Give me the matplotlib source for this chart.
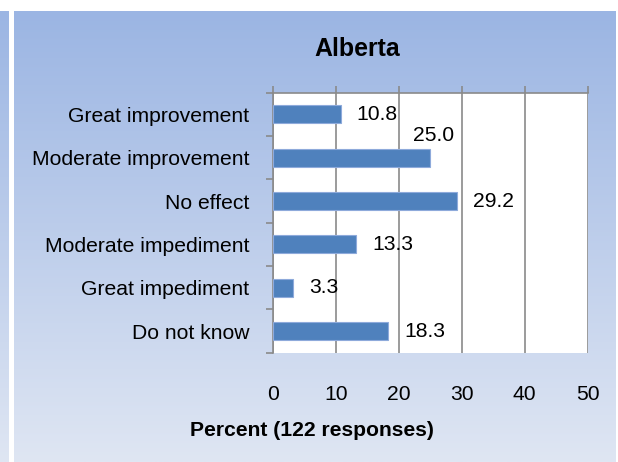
import numpy as np
import matplotlib
matplotlib.use("Agg")
import matplotlib.pyplot as plt
from matplotlib.colors import LinearSegmentedColormap

plt.rcParams['font.family'] = ['Liberation Sans', 'DejaVu Sans']

categories = ["Great improvement", "Moderate improvement", "No effect",
              "Moderate impediment", "Great impediment", "Do not know"]
percent = [10.8, 25.0, 29.2, 13.3, 3.3, 18.3]
xticks = [0, 10, 20, 30, 40, 50]

W, H = 618, 462
fig = plt.figure(figsize=(W / 100, H / 100), dpi=100)
fig.patch.set_facecolor("white")

# gradient background panels (left strip + main panel)
grad = LinearSegmentedColormap.from_list("bg", ["#9bb5e3", "#dfe6f3"])
g = np.linspace(0, 1, 256).reshape(-1, 1)
for x0, x1 in [(0, 9), (14, 616)]:
    bg = fig.add_axes([x0 / W, 0, (x1 - x0) / W, (H - 11) / H], zorder=-5)
    bg.imshow(g, aspect="auto", cmap=grad, extent=[0, 1, 0, 1], origin="upper")
    bg.axis("off")

fs = 15.2
ax = fig.add_axes([272.7 / W, 1 - 352.7 / H, 315 / W, 260 / H])
ax.set_facecolor("white")
y = np.arange(len(categories))
bars = ax.barh(y, percent, height=0.41, color="#4f81bd", edgecolor="#8eaadb",
               linewidth=0.8, zorder=3)
ax.set_xlim(0, 50)
ax.set_ylim(len(categories) - 0.5, -0.5)

gray = "#8a8a8a"
ax.set_xticks(xticks)
ax.xaxis.grid(True, color=gray, linewidth=1.2, zorder=1)
ax.tick_params(axis="x", which="both", bottom=False, top=True, labelbottom=True,
               labeltop=False, direction="out", length=5, width=1.2, color=gray,
               labelsize=fs, pad=18.5)
ax.set_yticks(y)
ax.set_yticklabels(categories)
ax.set_yticks(np.arange(-0.5, len(categories), 1), minor=True)
ax.tick_params(axis="y", which="major", length=0, labelsize=fs, pad=17)
ax.tick_params(axis="y", which="minor", length=5, width=1.2, color=gray, direction="out")
for s in ["bottom", "right"]:
    ax.spines[s].set_visible(False)
for s in ["top", "left"]:
    ax.spines[s].set_color(gray)
    ax.spines[s].set_linewidth(1.2)

for i, v in enumerate(percent):
    if i == 1:
        off = (-12.2, 16.3)
    else:
        off = (11.5, 0)
    ax.annotate(f"{v:.1f}", (v, i), xytext=off, textcoords="offset points",
                ha="left", va="center", fontsize=fs, zorder=5)

fig.text(357 / W, 1 - 49 / H, "Alberta", ha="center", va="center",
         fontsize=17.9, fontweight="bold")
fig.text(312 / W, 1 - 430 / H, "Percent (122 responses)", ha="center", va="center",
         fontsize=fs, fontweight="bold")

fig.savefig("out.png", dpi=100)
